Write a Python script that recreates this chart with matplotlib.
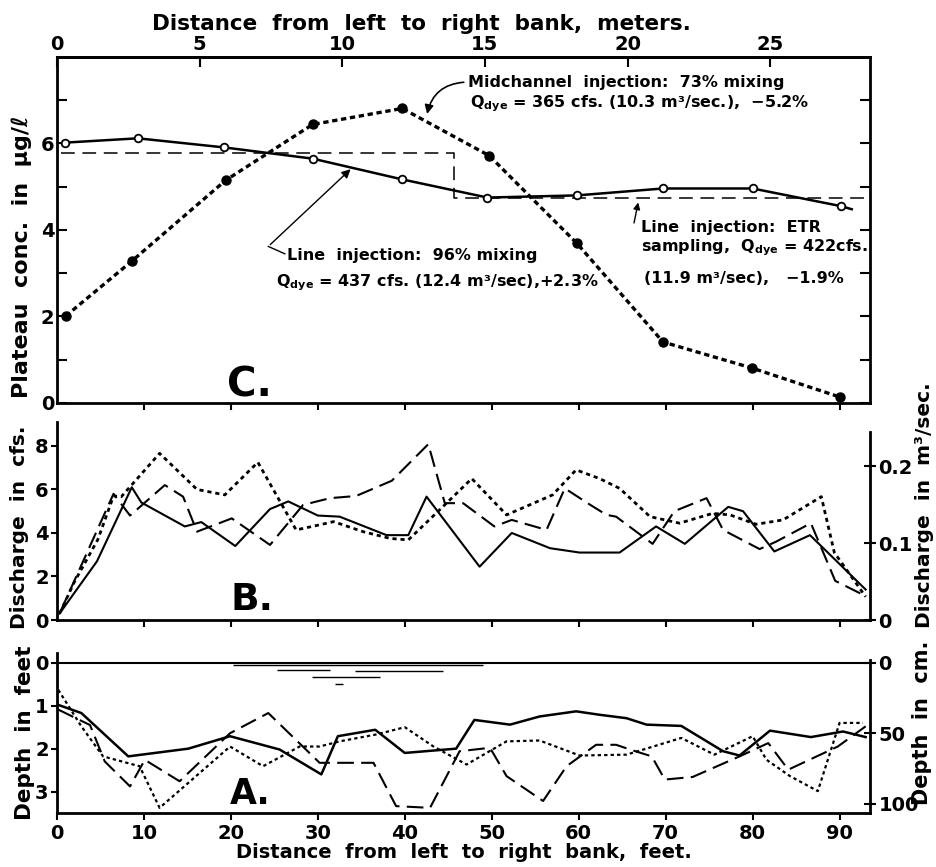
import matplotlib
matplotlib.use('Agg')
import matplotlib.pyplot as plt

plt.rcParams['font.family'] = ['DejaVu Sans']
plt.rcParams['font.weight'] = 'bold'
plt.rcParams['mathtext.default'] = 'regular'
plt.rcParams['axes.linewidth'] = 2.0

M_PER_FT = 0.3048
CMS_PER_CFS = 0.0283168
CM_PER_FT = 30.48

# ---------------- Panel C: plateau concentration (ug/l) ----------------
line_x = [0.9, 9.3, 19.2, 29.4, 39.7, 49.5, 59.8, 69.7, 80.0, 90.2, 91.4]
line_y = [6.02, 6.12, 5.91, 5.65, 5.17, 4.75, 4.80, 4.96, 4.96, 4.55, 4.48]
mid_x = [1.0, 8.6, 19.4, 29.4, 39.7, 49.7, 59.8, 69.7, 79.9, 90.0]
mid_y = [2.01, 3.28, 5.15, 6.44, 6.81, 5.72, 3.69, 1.41, 0.81, 0.14]
etr_x = [0.5, 45.6, 45.6, 93.5]
etr_y = [5.77, 5.77, 4.74, 4.74]

# ---------------- Panel B: discharge (cfs) ----------------
bs_x = [0.3, 4.6, 8.6, 9.7, 14.7, 16.6, 20.5, 24.5, 26.6, 30.0, 32.5, 37.9, 40.4,
        42.5, 48.6, 52.3, 56.7, 60.1, 64.7, 68.9, 72.2, 77.2, 78.9, 82.5, 86.6, 93.0]
bs_y = [0.3, 2.7, 6.1, 5.4, 4.3, 4.5, 3.4, 5.1, 5.45, 4.8, 4.75, 3.9, 3.9,
        5.67, 2.45, 4.0, 3.3, 3.1, 3.1, 4.3, 3.5, 5.2, 5.0, 3.15, 3.9, 1.4]
bl_x = [0.3, 6.5, 8.4, 12.4, 14.5, 16.1, 20.1, 24.5, 28.3, 31.4, 34.4, 38.5, 42.7,
        44.6, 46.7, 50.3, 52.3, 56.3, 58.4, 61.3, 63.2, 64.3, 68.5, 71.0, 74.7,
        76.6, 80.8, 82.7, 86.7, 89.5, 93.0]
bl_y = [0.3, 5.8, 4.8, 6.2, 5.67, 4.06, 4.67, 3.45, 5.29, 5.6, 5.7, 6.4, 8.08,
        5.37, 5.37, 4.3, 4.6, 4.14, 6.05, 5.3, 4.83, 4.75, 3.5, 5.0, 5.6,
        4.14, 3.26, 3.6, 4.45, 1.8, 1.1]
bd_x = [0.3, 2.0, 4.7, 6.5, 7.4, 11.8, 16.1, 19.3, 23.1, 27.5, 30.5, 31.8, 35.2,
        38.3, 40.4, 44.0, 47.7, 51.7, 57.0, 59.7, 62.4, 64.7, 68.2, 71.6, 75.4,
        77.4, 80.4, 83.5, 87.9, 89.4, 93.0]
bd_y = [0.3, 1.75, 3.7, 5.7, 5.67, 7.66, 6.0, 5.75, 7.25, 4.14, 4.4, 4.52, 4.06,
        3.75, 3.68, 5.06, 6.5, 4.83, 5.75, 6.9, 6.5, 6.05, 4.75, 4.45, 4.9,
        4.83, 4.4, 4.6, 5.67, 3.1, 1.07]

# ---------------- Panel A: depth (ft) ----------------
as_x = [0.15, 2.8, 8.2, 15.1, 19.9, 25.6, 30.4, 32.3, 36.6, 40.0, 45.9, 48.0, 52.1,
        55.5, 59.7, 62.4, 65.5, 67.8, 71.8, 76.6, 78.5, 82.0, 86.7, 90.4, 93.0]
as_y = [0.98, 1.17, 2.18, 2.0, 1.71, 2.02, 2.6, 1.71, 1.56, 2.1, 2.0, 1.33, 1.44,
        1.25, 1.13, 1.21, 1.29, 1.44, 1.47, 2.06, 2.16, 1.58, 1.73, 1.6, 1.73]
al_x = [0.15, 3.8, 5.5, 8.4, 10.1, 14.1, 19.9, 24.3, 30.2, 36.4, 39.0, 42.9, 46.3,
        49.8, 51.7, 55.9, 58.6, 62.0, 64.3, 65.9, 68.4, 69.9, 73.1, 78.5, 81.8,
        84.1, 89.8, 93.0]
al_y = [1.09, 1.45, 2.3, 2.88, 2.26, 2.76, 1.64, 1.17, 2.33, 2.33, 3.34, 3.38, 2.06,
        1.98, 2.64, 3.22, 2.41, 1.91, 1.91, 2.02, 2.18, 2.72, 2.66, 2.18, 1.87,
        2.49, 1.95, 1.48]
ad_x = [0.15, 2.8, 5.3, 9.5, 11.8, 19.9, 23.7, 27.9, 30.2, 32.5, 36.7, 40.0, 43.3,
        47.1, 51.7, 55.5, 60.1, 65.5, 71.8, 75.6, 80.0, 81.6, 84.3, 87.5, 90.0, 92.7]
ad_y = [0.63, 1.48, 2.18, 2.41, 3.38, 1.95, 2.41, 1.95, 1.95, 1.83, 1.67, 1.5, 1.95,
        2.37, 1.83, 1.81, 2.16, 2.14, 1.75, 2.14, 1.71, 2.26, 2.64, 2.99, 1.4, 1.4]
# water-surface marks
wave_x0 = [20.2, 25.3, 34.3, 29.3, 32.0]
wave_x1 = [49.0, 31.4, 44.4, 37.1, 32.9]
wave_d = [0.05, 0.17, 0.18, 0.33, 0.49]

feet_ticks = [0, 10, 20, 30, 40, 50, 60, 70, 80, 90]
meter_ticks = [0, 5, 10, 15, 20, 25]

W, H = 936, 867
fig = plt.figure(figsize=(W / 100, H / 100), dpi=100)


def rect(x0, y0, x1, y1):
    return [x0 / W, 1 - y1 / H, (x1 - x0) / W, (y1 - y0) / H]


axC = fig.add_axes(rect(57, 57, 870, 403))
axB = fig.add_axes(rect(57, 422, 870, 620))
axA = fig.add_axes(rect(57, 653, 870, 813))

XMAX = 93.5
TICK_FS = 14

# ================= Panel C =================
axC.set_xlim(0, XMAX)
axC.set_ylim(0, 8)
axC.plot(line_x, line_y, color='k', lw=1.8, marker='o', ms=5.5,
         mfc='white', mec='k', mew=1.3, markevery=list(range(10)), zorder=4)
axC.plot(mid_x, mid_y, color='k', lw=2.4, dashes=(1.6, 1.1), marker='o',
         ms=6.5, mfc='k', mec='k', zorder=4)
axC.plot(etr_x, etr_y, color='k', lw=1.1, dashes=(9, 5), zorder=3)
axC.set_yticks([0, 2, 4, 6])
axC.set_yticks([1, 3, 5, 7], minor=True)
axC.set_xticks(feet_ticks[1:])
axC.tick_params(axis='x', which='both', top=False, bottom=True, direction='out',
                length=5, width=1.5, labelbottom=False)
axC.tick_params(axis='y', which='both', left=True, right=True, direction='in',
                length=7, width=1.5, labelsize=TICK_FS, pad=2)
secC = axC.secondary_xaxis('top', functions=(lambda f: f * M_PER_FT,
                                              lambda m: m / M_PER_FT))
secC.set_xticks(meter_ticks)
secC.tick_params(direction='in', length=7, width=1.5, labelsize=TICK_FS, pad=2)
secC.set_xlabel('Distance  from  left  to  right  bank,  meters.', fontsize=15.5,
                fontweight='bold')
secC.xaxis.set_label_coords((421 - 57) / 813, 1 + (57 - 24) / 346,
                            transform=axC.transAxes)
secC.xaxis.label.set_va('center')
axC.set_ylabel('Plateau  conc.  in  μg/ℓ', fontsize=16, fontweight='bold')
axC.yaxis.set_label_coords((22 - 57) / 813, (403 - 257) / 346)
axC.yaxis.label.set_va('center')

ann_fs = 11.5
axC.annotate('', xy=(42.5, 6.62), xytext=(47.1, 7.42),
             arrowprops=dict(arrowstyle='-|>', connectionstyle='arc3,rad=0.4',
                             lw=1.2, color='k', mutation_scale=13))
axC.text(47.3, 7.42, 'Midchannel  injection:  73% mixing', fontsize=ann_fs,
         ha='left', va='center')
axC.text(47.5, 6.92, 'Q$_{dye}$ = 365 cfs. (10.3 m³/sec.),  −5.2%',
         fontsize=ann_fs, ha='left', va='center')

axC.annotate('', xy=(34.0, 5.45), xytext=(24.3, 3.62),
             arrowprops=dict(arrowstyle='-|>', lw=1.0, color='k', mutation_scale=13))
axC.plot([24.3, 26.2], [3.62, 3.45], color='k', lw=1.0)
axC.text(26.4, 3.42, 'Line  injection:  96% mixing', fontsize=ann_fs,
         ha='left', va='center')
axC.text(25.2, 2.77, 'Q$_{dye}$ = 437 cfs. (12.4 m³/sec),+2.3%', fontsize=ann_fs,
         ha='left', va='center')

axC.annotate('', xy=(66.9, 4.70), xytext=(66.3, 4.10),
             arrowprops=dict(arrowstyle='-|>', lw=1.0, color='k', mutation_scale=10))
axC.text(67.2, 4.06, 'Line  injection:  ETR', fontsize=ann_fs, ha='left', va='center')
axC.text(67.2, 3.58, 'sampling,  Q$_{dye}$ = 422cfs.', fontsize=ann_fs,
         ha='left', va='center')
axC.text(67.5, 2.88, '(11.9 m³/sec),   −1.9%', fontsize=ann_fs, ha='left', va='center')
axC.text(19.5, 0.14, 'C.', fontsize=29, fontweight='bold', ha='left', va='baseline')

# ================= Panel B =================
axB.set_xlim(0, XMAX)
axB.set_ylim(0, 9.1)
axB.plot(bs_x, bs_y, color='k', lw=1.5)
axB.plot(bl_x, bl_y, color='k', lw=1.5, dashes=(8, 3.5))
axB.plot(bd_x, bd_y, color='k', lw=2.0, dashes=(1.5, 1.4))
axB.spines['top'].set_visible(False)
axB.spines['right'].set_visible(False)
axB.set_yticks([0, 2, 4, 6, 8])
axB.set_xticks(feet_ticks[1:])
axB.tick_params(axis='x', direction='out', length=5, width=1.5, labelbottom=False)
axB.tick_params(axis='y', direction='out', length=4, width=1.5, labelsize=TICK_FS, pad=2)
axB.set_ylabel('Discharge  in  cfs.', fontsize=14.5, fontweight='bold')
axB.yaxis.set_label_coords((20 - 57) / 813, (620 - 527) / 198)
axB.yaxis.label.set_va('center')
secB = axB.secondary_yaxis('right', functions=(lambda c: c * CMS_PER_CFS,
                                                lambda m: m / CMS_PER_CFS))
secB.set_yticks([0, 0.1, 0.2], labels=['0', '0.1', '0.2'])
secB.tick_params(direction='inout', length=8, width=1.5, labelsize=TICK_FS, pad=2)
secB.spines['right'].set_bounds(0, 8.65 * CMS_PER_CFS)
secB.spines['right'].set_linewidth(2.0)
secB.set_ylabel('Discharge  in  m³/sec.', fontsize=14.5, fontweight='bold')
secB.yaxis.set_label_coords((925 - 57) / 813, (620 - 505) / 198,
                            transform=axB.transAxes)
secB.yaxis.label.set_va('center')
axB.text(19.9, 0.45, 'B.', fontsize=27, fontweight='bold', ha='left', va='baseline')

# ================= Panel A =================
axA.set_xlim(0, XMAX)
axA.set_ylim(3.5, -0.23)
axA.axhline(0, color='k', lw=1.5)
axA.hlines(wave_d, wave_x0, wave_x1, color='k', lw=1.0)
axA.plot(as_x, as_y, color='k', lw=1.8)
axA.plot(al_x, al_y, color='k', lw=1.5, dashes=(8, 3.5))
axA.plot(ad_x, ad_y, color='k', lw=1.6, dashes=(1.5, 1.4))
axA.spines['top'].set_visible(False)
axA.spines['right'].set_visible(False)
axA.set_yticks([0, 1, 2, 3])
axA.set_xticks(feet_ticks)
axA.tick_params(axis='x', direction='out', length=5, width=1.5, labelsize=TICK_FS, pad=3)
axA.tick_params(axis='y', direction='out', length=4, width=1.5, labelsize=TICK_FS, pad=2)
axA.set_xlabel('Distance  from  left  to  right  bank,  feet.', fontsize=14,
               fontweight='bold')
axA.xaxis.set_label_coords(0.5, -(853 - 813) / 160)
axA.xaxis.label.set_va('center')
axA.set_ylabel('Depth  in  feet', fontsize=15.5, fontweight='bold')
axA.yaxis.set_label_coords((25 - 57) / 813, (813 - 733) / 160)
axA.yaxis.label.set_va('center')
secA = axA.secondary_yaxis('right', functions=(lambda f: f * CM_PER_FT,
                                                lambda c: c / CM_PER_FT))
secA.set_yticks([0, 50, 100], labels=['0', '50', '100'])
secA.tick_params(direction='inout', length=8, width=1.5, labelsize=TICK_FS, pad=2)
secA.spines['right'].set_bounds(-2, 3.5 * CM_PER_FT)
secA.spines['right'].set_linewidth(2.0)
secA.set_ylabel('Depth  in  cm.', fontsize=15, fontweight='bold')
secA.yaxis.set_label_coords((922 - 57) / 813, (813 - 723) / 160,
                            transform=axA.transAxes)
secA.yaxis.label.set_va('center')
axA.text(19.9, 3.30, 'A.', fontsize=25, fontweight='bold', ha='left', va='baseline')

fig.savefig('out.png', dpi=100, facecolor='white')
